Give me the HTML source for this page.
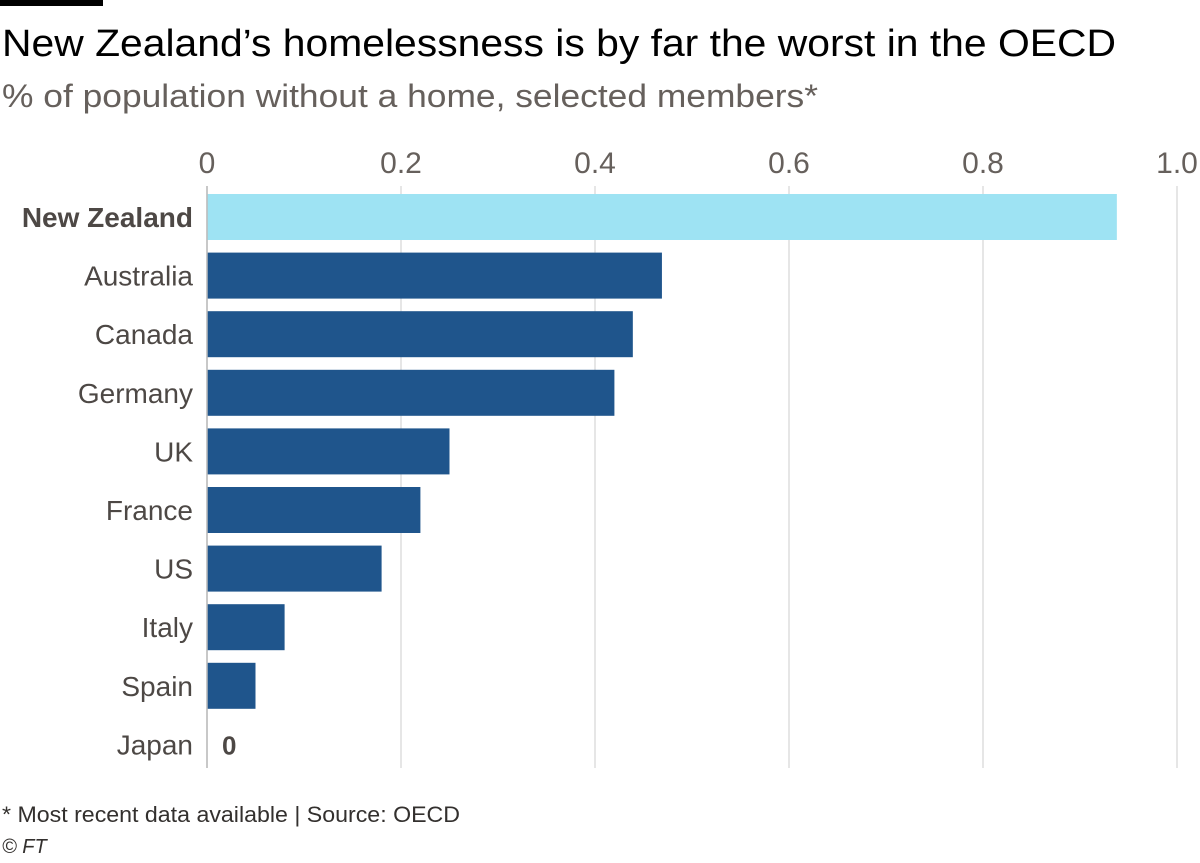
<!DOCTYPE html>
<html><head><meta charset="utf-8"><style>
body{margin:0;background:#fff;width:1200px;height:858px;overflow:hidden;font-family:"Liberation Sans",sans-serif}
</style></head><body>
<svg width="1200" height="858" xmlns="http://www.w3.org/2000/svg">
<rect x="0" y="0" width="103" height="6" fill="#000"/>
<text x="2" y="56" font-size="38" fill="#000" textLength="1114" lengthAdjust="spacingAndGlyphs">New Zealand’s homelessness is by far the worst in the OECD</text>
<text x="2" y="107" font-size="32" fill="#66605c" textLength="816" lengthAdjust="spacingAndGlyphs">% of population without a home, selected members*</text>
<g id="grid"></g>
<g id="bars"></g>
<text x="2" y="822" font-size="22" fill="#33302e" textLength="458" lengthAdjust="spacingAndGlyphs">* Most recent data available | Source: OECD</text>
<text x="2" y="853" font-size="20" font-style="italic" fill="#33302e">© FT</text>
</svg>
<script>
const categories=["New Zealand","Australia","Canada","Germany","UK","France","US","Italy","Spain","Japan"];
const values=[0.938,0.469,0.439,0.42,0.25,0.22,0.18,0.08,0.05,0];
const ticks=[0,0.2,0.4,0.6,0.8,1.0];
const tickLabels=["0","0.2","0.4","0.6","0.8","1.0"];
const NS="http://www.w3.org/2000/svg";
const x=v=>207+v*970;
const y=i=>194+i*58.6;
const g=document.getElementById('grid'),b=document.getElementById('bars');
function mk(tag,at,parent,txt){const e=document.createElementNS(NS,tag);for(const k in at)e.setAttribute(k,at[k]);if(txt!=null)e.textContent=txt;parent.appendChild(e);return e;}
ticks.forEach((t,i)=>{
  const l=mk('line',{x1:x(t),x2:x(t),y1:186,y2:768,stroke:'#ddd','stroke-width':1.5},g);
  
  
  const tx=mk('text',{x:x(t),y:173,'font-size':30,fill:'#66605c','text-anchor':'middle'},g,tickLabels[i]);
  
  
});
categories.forEach((c,i)=>{
  const r=mk('rect',{x:x(0),y:y(i),width:Math.max(0,x(values[i])-x(0)),height:46,fill:i==0?'#9ee3f3':'#1f558c'},b);
  
  
  const t=mk('text',{x:193,y:y(i)+33,'font-size':28,fill:'#4d4845','text-anchor':'end','font-weight':i==0?'bold':'normal'},b,c);
  
  
  if(values[i]===0){
    const z=mk('text',{x:x(0)+15,y:y(i)+33,'font-size':26,fill:'#4d4845','font-weight':'bold'},b,'0');
    
    
  }
});
const base=mk('line',{x1:x(0),x2:x(0),y1:186,y2:768,stroke:'#bbb','stroke-width':1.5},b);


</script>
</body></html>
